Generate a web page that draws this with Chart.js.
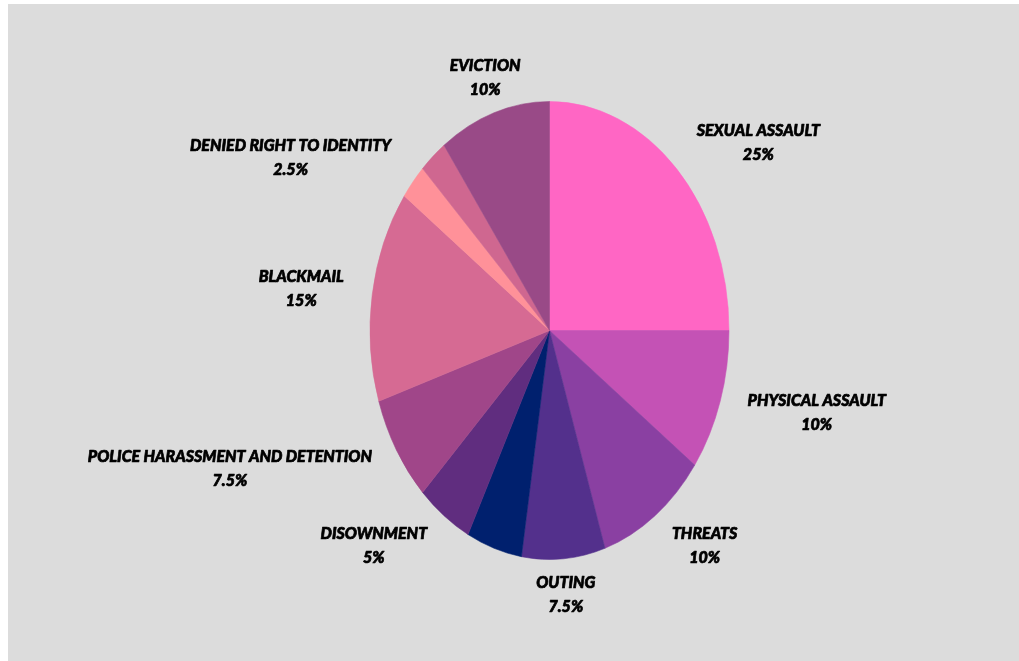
<!DOCTYPE html>
<html>
<head>
<meta charset="utf-8">
<script src="https://cdn.jsdelivr.net/npm/chart.js@4.4.0/dist/chart.umd.min.js"></script>
<style>
    html, body { margin: 0; padding: 0; background: #fff; }
    #wrap { width: 1019px; height: 661px; position: relative; }
</style>
</head>
<body>
<div id="wrap"><canvas id="pieChart" width="1019" height="661"></canvas></div>
<script>
// categories clockwise from 12 o'clock (two small slices carry no label in the original)
var categories = ['SEXUAL ASSAULT', 'PHYSICAL ASSAULT', 'THREATS', 'OUTING', '', 'DISOWNMENT',
    'POLICE HARASSMENT AND DETENTION', 'BLACKMAIL', 'DENIED RIGHT TO IDENTITY', '', 'EVICTION'];
var percents = [25, 10, 10, 7.5, 5, 5, 7.5, 15, 2.5, 2.5, 10];
var sliceColors = ['#FF66C4', '#C452B5', '#8A40A2', '#53308C', '#00206E', '#602D7F',
    '#A04689', '#D66A93', '#FF9199', '#CF6790', '#994A87'];

var RX = 179.5, RY = 229;       // ellipse radii of the pie
var LABEL_K = 1.16;             // label anchor distance, relative to radius

//background panel
var panelPlugin = {
    id: 'panel',
    beforeDraw: function (chart) {
        var ctx = chart.ctx;
        ctx.save();
        ctx.fillStyle = '#DCDCDC';
        ctx.fillRect(8, 4, chart.width - 8, chart.height - 4);
        ctx.restore();
    }
};

//stretch the pie vertically into an ellipse
var ellipsePlugin = {
    id: 'ellipse',
    beforeDatasetsDraw: function (chart) {
        var arc = chart.getDatasetMeta(0).data[0];
        var ctx = chart.ctx;
        ctx.save();
        ctx.translate(arc.x, arc.y);
        ctx.scale(1, RY / RX);
        ctx.translate(-arc.x, -arc.y);
    },
    afterDatasetsDraw: function (chart) {
        chart.ctx.restore();
    }
};

//outside labels: name + percent
var labelPlugin = {
    id: 'outLabels',
    afterDraw: function (chart) {
        var ctx = chart.ctx;
        var meta = chart.getDatasetMeta(0);
        ctx.save();
        ctx.font = 'italic 900 16px Lato';
        ctx.fillStyle = '#000';
        ctx.strokeStyle = '#000';
        ctx.lineWidth = 0.7;
        ctx.lineJoin = 'round';
        ctx.textBaseline = 'middle';
        meta.data.forEach(function (arc, i) {
            var name = categories[i];
            if (!name) return;
            var mid = (arc.startAngle + arc.endAngle) / 2;
            var s = Math.cos(mid), c = Math.sin(mid);
            var ax = arc.x + s * RX * LABEL_K;
            var ay = arc.y + c * RY * LABEL_K;
            var pct = percents[i] + '%';
            var w = Math.max(ctx.measureText(name).width, ctx.measureText(pct).width);
            var left;
            if (s > 0.5) left = ax;
            else if (s < -0.5) left = ax - w;
            else left = ax - w / 2;
            var cx = left + w / 2;
            ctx.textAlign = 'center';
            ctx.strokeText(name, cx, ay - 12);
            ctx.fillText(name, cx, ay - 12);
            ctx.strokeText(pct, cx, ay + 12);
            ctx.fillText(pct, cx, ay + 12);
        });
        ctx.restore();
    }
};

var ctx = document.getElementById('pieChart');
var myChart = new Chart(ctx, {
    type: 'pie',
    data: {
        labels: categories,
        datasets: [{
            data: percents,
            backgroundColor: sliceColors,
            borderColor: sliceColors,
            borderWidth: 0.5
        }]
    },
    options: {
        responsive: false,
        animation: false,
        radius: RX,
        layout: { padding: { left: 80 } },
        plugins: {
            legend: { display: false },
            tooltip: { enabled: false }
        }
    },
    plugins: [panelPlugin, ellipsePlugin, labelPlugin]
});
</script>
</body>
</html>
